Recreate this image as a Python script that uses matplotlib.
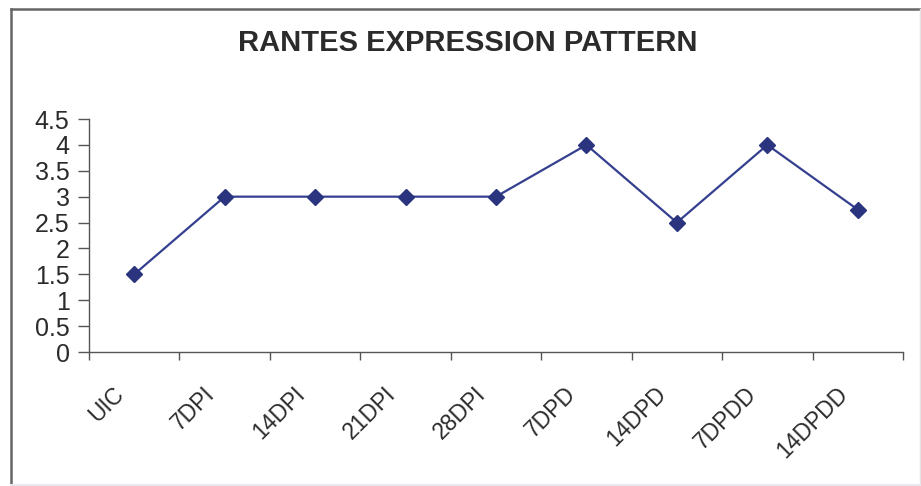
import numpy as np
import matplotlib
matplotlib.use("Agg")
import matplotlib.pyplot as plt
import matplotlib.transforms as mtransforms
from matplotlib.lines import Line2D

plt.rcParams['font.family'] = ['Liberation Sans', 'DejaVu Sans']

categories = ['UIC', '7DPI', '14DPI', '21DPI', '28DPI', '7DPD', '14DPD', '7DPDD', '14DPDD']
expression = [1.5, 3, 3, 3, 3, 4, 2.5, 4, 2.75]
y_ticks = [0, 0.5, 1, 1.5, 2, 2.5, 3, 3.5, 4, 4.5]
y_tick_labels = ['0', '0.5', '1', '1.5', '2', '2.5', '3', '3.5', '4', '4.5']

W, H = 921, 486
fig = plt.figure(figsize=(W / 100, H / 100), dpi=100)
ax = fig.add_axes([89 / W, 1 - 352 / H, 814 / W, 233 / H])

x = np.arange(len(categories)) + 0.5
ax.plot(x, expression, color='#34408f', lw=1.6, marker='D', markersize=8,
        markerfacecolor='#2a347f', markeredgecolor='#2a347f', zorder=3)

ax.set_xlim(0, len(categories))
ax.set_ylim(0, 4.5)
ax.set_yticks(y_ticks)
ax.set_yticklabels(y_tick_labels)

# category ticks sit between the points, labels under each point
ax.set_xticks(np.arange(len(categories) + 1))
ax.set_xticklabels([])
ax.set_xticks(x, minor=True)
ax.set_xticklabels(categories, minor=True, rotation=45, ha='right', va='top',
                   rotation_mode='anchor')
ax.tick_params(axis='x', which='minor', length=0, pad=22, labelsize=16.5, labelcolor='#2b2b2b')
ax.tick_params(axis='x', which='major', length=6, width=1, color='#555555', direction='out')
ax.tick_params(axis='y', length=8, width=1, color='#555555', direction='out',
               labelsize=18, labelcolor='#2b2b2b', pad=6)

shift = mtransforms.ScaledTranslation(-22 / 100, 0, fig.dpi_scale_trans)
for lbl in ax.get_xticklabels(minor=True):
    lbl.set_transform(lbl.get_transform() + shift)

for side in ['top', 'right']:
    ax.spines[side].set_visible(False)
for side in ['left', 'bottom']:
    ax.spines[side].set_color('#555555')
    ax.spines[side].set_linewidth(1)

fig.text(468 / W, 1 - 43 / H, 'RANTES EXPRESSION PATTERN', ha='center', va='center',
         fontsize=21, fontweight='bold', color='#2b2b2b')

# chart frame: dark top and left edges, faint right and bottom
fig.add_artist(Line2D([11 / W, 1], [1 - 9 / H, 1 - 9 / H], transform=fig.transFigure,
                      color='#666666', lw=1.8))
fig.add_artist(Line2D([11 / W, 11 / W], [0, 1 - 9 / H], transform=fig.transFigure,
                      color='#666666', lw=1.8))
fig.add_artist(Line2D([919.5 / W, 919.5 / W], [0, 1 - 9 / H], transform=fig.transFigure,
                      color='#e4e4e4', lw=1))
fig.add_artist(Line2D([11 / W, 1], [1.5 / H, 1.5 / H], transform=fig.transFigure,
                      color='#e8e8ee', lw=1.5))

fig.savefig('out.png', dpi=100)
